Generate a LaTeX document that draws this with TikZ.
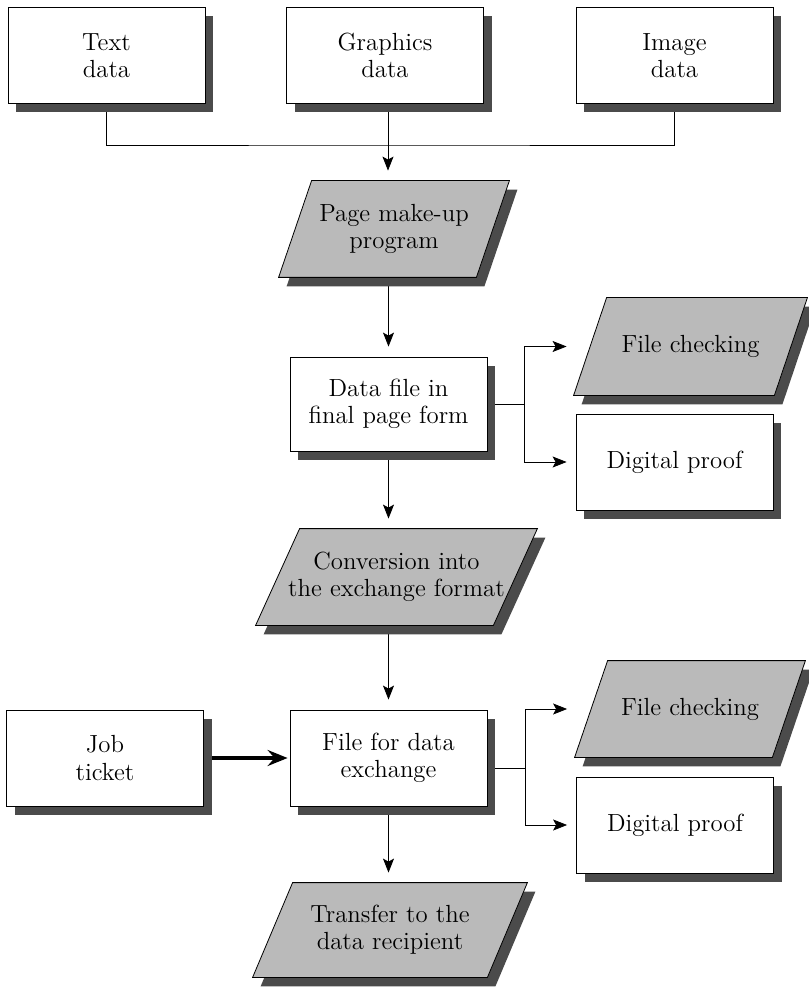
\documentclass[tikz,border=0pt]{standalone}
\usepackage{xcolor}
\definecolor{Silver Sand}{HTML}{bababa}
\definecolor{Dim Grey}{HTML}{4b4b4b}
\colorlet{cFill}{Silver Sand}
\colorlet{cShadow}{Dim Grey}
\usepackage{tikz}
\usetikzlibrary{arrows.meta, calc, shadows}
\pgfdeclarelayer{background}
\pgfdeclarelayer{shapes}
\pgfsetlayers{background,shapes,main}
\tikzset{
	line width=.6pt,
	font=\fontsize{12.4}{13.5}\selectfont,
	>={Stealth[length=7pt, width=5.5pt, inset=1.5pt]},
	shade box/.style={
		drop shadow={shadow xshift=4pt, shadow yshift=-4.5pt, fill=cShadow, opacity=1}
	},
	databox/.style={
		shade box,
		draw,
		fill=white,
		rectangle,
		align=center,
		inner sep=0pt,
		minimum width=98.5pt,
		minimum height=48pt
	},
	process/.style={
		rectangle,
		align=center,
		inner sep=0pt,
		minimum width=115pt,
		minimum height=48pt
	},
	link/.style={-},
	edge/.style={->, shorten >=5pt},
	ticket edge/.style={
		-{Stealth[length=10pt, width=8pt, inset=3.5pt]},
		line width=1.6pt,
		shorten >=1pt
	}
}
% grey slanted frame with shadow round a process node: #1 node, #2 slant
\newcommand{\slantframe}[2]{
	\begin{pgfonlayer}{shapes}
		\fill[cShadow] ($(#1.north west)+(#2,0)+(8,9)$) -- ($(#1.north east)+(8,9)$)
			-- ($(#1.south east)+(-#2,0)+(8,9)$) -- ($(#1.south west)+(8,9)$) -- cycle;
		\filldraw[fill=cFill] ($(#1.north west)+(#2,0)$) -- (#1.north east)
			-- ($(#1.south east)+(-#2,0)$) -- (#1.south west) -- cycle;
	\end{pgfonlayer}
}

\begin{document}
\begin{tikzpicture}[x=.5pt, y=-.5pt]
		\useasboundingbox (0,0) rectangle (808,989);

		% sources
		\node[databox] (text) at (106.5,55.5) {Text\\data};
		\node[databox] (graphics) at (385,55.5) {Graphics\\data};
		\node[databox] (image) at (674.5,55.5) {Image\\data};

		\node[process] (makeup) at (394,229) {Page make-up\\program};
		\slantframe{makeup}{33}

		\node[databox, minimum height=47pt] (datafile) at (388.5,404) {Data file in\\final page form};
		\node[process, minimum width=116.5pt, minimum height=48.5pt] (check1) at (690.5,346.5) {File checking};
		\slantframe{check1}{33}
		\node[databox] (proof1) at (674.5,462) {Digital proof};

		\node[process, minimum width=140.5pt] (convert) at (396.5,577) {Conversion into\\the exchange format};
		\slantframe{convert}{44}

		\node[databox] (job) at (105,758) {Job\\[.5pt]ticket};
		\node[databox] (exchange) at (388.5,758) {File for data\\exchange};
		\node[process] (check2) at (690,709) {File checking};
		\slantframe{check2}{33}
		\node[databox] (proof2) at (675,825) {Digital proof};

		\node[process, minimum width=137pt, minimum height=47pt] (transfer) at (390,930) {Transfer to the\\data recipient};
		\slantframe{transfer}{40}

		\coordinate (join) at (388,145);
		\coordinate (split1) at (524,404);
		\coordinate (split2) at (525,768);

		\begin{pgfonlayer}{background}
			\draw[link] (text.south) |- (join) -| (image.south);
			\draw[edge] (graphics.south -| join) -- (join |- makeup.north);
			\draw[edge] (datafile |- makeup.south) -- (datafile.north);

			\draw[link] (datafile.east) -- (split1);
			\draw[edge, shorten >=4.5pt] (split1) |- (proof1.west |- check1.west);
			\draw[edge, shorten >=4.5pt] (split1) |- (proof1.west);

			\draw[edge] (datafile.south) -- (datafile.south |- convert.north);
			\draw[edge] (exchange |- convert.south) -- (exchange.north);

			\draw[ticket edge] (job.east) -- (exchange.west);

			\draw[link] (exchange.east |- split2) -- (split2);
			\draw[edge, shorten >=4.5pt] (split2) |- (proof2.west |- check2.west);
			\draw[edge, shorten >=4.5pt] (split2) |- (proof2.west);

			\draw[edge] (exchange.south) -- (exchange.south |- transfer.north);
		\end{pgfonlayer}
	\end{tikzpicture}
\end{document}
